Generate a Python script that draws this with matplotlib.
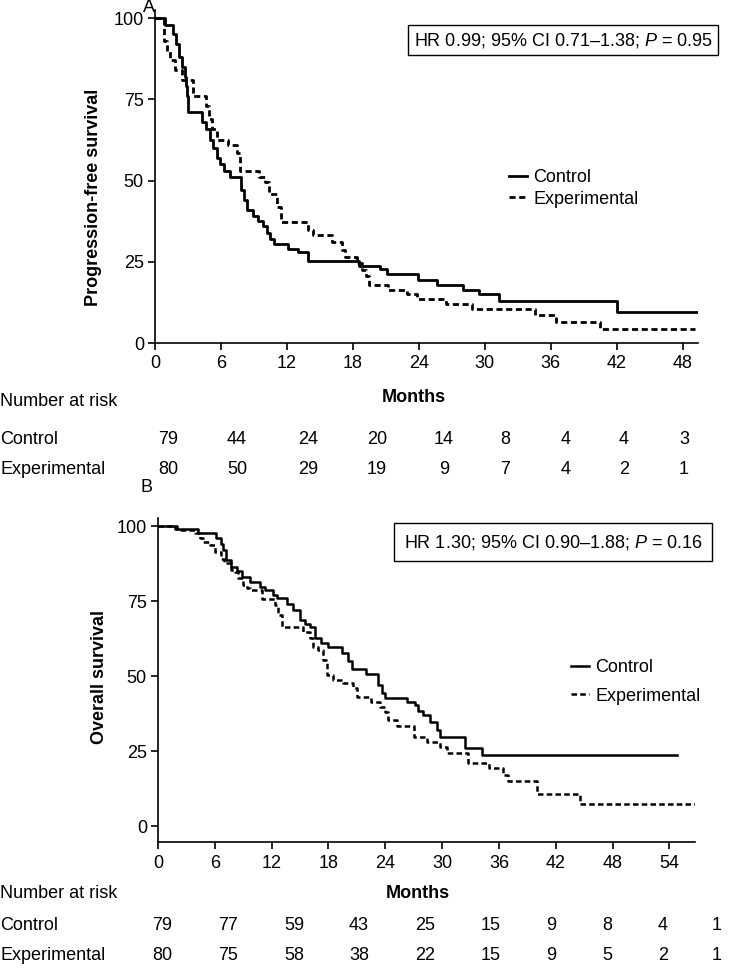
import matplotlib
matplotlib.use("Agg")
import matplotlib.pyplot as plt

plt.rcParams['font.family'] = ['Liberation Sans', 'DejaVu Sans']
plt.rcParams['mathtext.fontset'] = 'custom'
plt.rcParams['mathtext.rm'] = 'Liberation Sans'
plt.rcParams['mathtext.it'] = 'Liberation Sans:italic'

# ---------------- data ----------------
# Panel A: progression-free survival (months, % surviving), step functions
pfs_ctrl_t = [0, 0.9, 1.6, 1.9, 2.2, 2.5, 2.7, 2.8, 2.9, 3.0, 4.3, 4.6, 5.0, 5.3, 5.6, 5.9, 6.3, 6.8,
              7.8, 8.1, 8.4, 8.9, 9.4, 9.8, 10.2, 10.5, 10.8, 12.1, 13.0, 13.9, 18.6, 20.5, 21.1,
              23.9, 25.7, 28.0, 29.5, 31.3, 42.0, 49.4]
pfs_ctrl_s = [100, 98, 95, 92, 88, 85, 82, 79, 76, 71, 68, 66, 62.5, 60, 57, 55, 53, 51,
              47, 44, 41, 39, 37.5, 36, 34, 32, 30.5, 29, 28, 25.2, 23.7, 22.7, 21.1,
              19.5, 18, 16.3, 15, 12.9, 9.6, 9.6]
pfs_exp_t = [0, 0.8, 1.1, 1.4, 1.8, 2.5, 3.5, 4.6, 4.9, 5.2, 5.6, 6.6, 7.5, 7.7, 9.5, 10.0, 10.4,
             11.1, 11.5, 13.9, 14.4, 16.1, 17.0, 17.3, 18.4, 18.8, 19.2, 19.5, 21.2, 22.9, 23.8,
             26.5, 28.8, 34.6, 36.5, 40.5, 49.1]
pfs_exp_s = [100, 93, 90, 87, 84, 81, 76, 73, 69, 66, 62.5, 61, 58.5, 53, 51, 49.5, 46,
             42, 37.2, 34.8, 33.2, 31, 28.5, 26.5, 24.5, 22.5, 20.5, 17.8, 16.3, 15, 13.5,
             12, 10.5, 8.6, 6.5, 4.3, 4.3]

# Panel B: overall survival
os_ctrl_t = [0, 1.8, 4.2, 6.1, 6.6, 6.9, 7.2, 7.7, 8.3, 8.9, 9.7, 10.8, 11.3, 12.1, 12.6, 13.6,
             14.3, 15.0, 15.5, 16.0, 16.6, 17.2, 17.9, 19.4, 20.1, 20.5, 22.0, 23.2, 23.6, 24.0,
             26.3, 27.1, 27.5, 28.0, 28.7, 29.5, 29.8, 32.4, 34.2, 54.8]
os_ctrl_s = [100, 99, 97.7, 96, 94, 92, 88.7, 86.5, 85, 83, 81.3, 79.7, 78.7, 77, 76, 74,
             72, 68.7, 67.5, 66.3, 62.7, 61, 59.7, 57.7, 55, 52.3, 50.7, 47, 44.5, 42.7,
             41.5, 40.3, 38.5, 37, 34.7, 32, 29.7, 26, 23.7, 23.7]
os_exp_t = [0, 2.0, 3.9, 4.4, 4.8, 5.5, 6.0, 6.6, 7.0, 7.7, 8.1, 8.4, 9.0, 9.4, 9.7, 11.0, 12.4,
            12.7, 13.1, 15.3, 16.0, 16.4, 16.9, 17.4, 17.8, 18.5, 19.5, 20.6, 21.0, 22.5, 23.4,
            24.0, 24.3, 25.2, 27.0, 28.4, 29.8, 30.5, 32.7, 35.0, 36.4, 37.0, 40.0, 44.6, 56.7]
os_exp_s = [100, 98.7, 97.7, 96, 94.7, 93.7, 91.3, 89, 87.7, 85.5, 84.7, 82.7, 80.3, 79.3, 78.7,
            75.7, 73.7, 70.3, 66.3, 64.7, 62.7, 59.7, 58.7, 55.3, 50.3, 48.7, 47.7, 46, 43,
            41.3, 39.7, 38, 35.3, 33.3, 29.7, 28, 26.3, 24.3, 21, 19.3, 17, 15, 10.7, 7.3, 7.3]

groups = ["Control", "Experimental"]
pfs_risk_ctrl = [79, 44, 24, 20, 14, 8, 4, 4, 3]
pfs_risk_exp = [80, 50, 29, 19, 9, 7, 4, 2, 1]
os_risk_ctrl = [79, 77, 59, 43, 25, 15, 9, 8, 4, 1]
os_risk_exp = [80, 75, 58, 38, 22, 15, 9, 5, 2, 1]

pfs_ticks = [0, 6, 12, 18, 24, 30, 36, 42, 48]
os_ticks = [0, 6, 12, 18, 24, 30, 36, 42, 48, 54]
y_ticks = [0, 25, 50, 75, 100]

pfs_hr = r"HR 0.99; 95% CI 0.71–1.38; $\mathit{P}$ = 0.95"
os_hr = r"HR 1.30; 95% CI 0.90–1.88; $\mathit{P}$ = 0.16"

# ---------------- layout ----------------
W, H = 737, 968
fig = plt.figure(figsize=(W / 100, H / 100), dpi=100)
FS = 13

def fx(x):
    return x / W

def fy(y):
    return 1 - y / H

def make_axes(l, r, t, b):
    return fig.add_axes([fx(l), fy(b), (r - l) / W, (b - t) / H])

axA = make_axes(155, 698, 10, 343)
axB = make_axes(158, 695, 518, 842)

dash = (0, (2.2, 1.3))

def style(ax, xticks, xmax, ymin, ymax):
    ax.set_xlim(0, xmax)
    ax.set_ylim(ymin, ymax)
    ax.set_xticks(xticks)
    ax.set_yticks(y_ticks)
    for s in ['top', 'right']:
        ax.spines[s].set_visible(False)
    for s in ['left', 'bottom']:
        ax.spines[s].set_linewidth(1.2)
    ax.tick_params(direction='out', length=5, width=1.2, labelsize=FS, pad=4)
    ax.tick_params(axis='y', pad=3)

# Panel A
axA.step(pfs_ctrl_t, pfs_ctrl_s, where='post', color='black', lw=2.0, label=groups[0])
axA.step(pfs_exp_t, pfs_exp_s, where='post', color='black', lw=2.0, ls=dash, label=groups[1])
style(axA, pfs_ticks, 49.4, 0, 102.5)

# Panel B
axB.step(os_ctrl_t, os_ctrl_s, where='post', color='black', lw=1.8, label=groups[0])
axB.step(os_exp_t, os_exp_s, where='post', color='black', lw=1.8, ls=dash, label=groups[1])
style(axB, os_ticks, 56.7, -5.3, 102.7)

# legends
def legend(ax, x, y, spacing):
    leg = ax.legend(loc='upper left', bbox_to_anchor=(fx(x), fy(y)),
                    bbox_transform=fig.transFigure, frameon=False, fontsize=FS,
                    handlelength=1.0, handletextpad=0.35, labelspacing=spacing,
                    borderpad=0, borderaxespad=0)
    return leg

legend(axA, 509, 169, 0.25)
legend(axB, 571, 659, 0.65)

# HR boxes
fig.text(fx(563), fy(40), pfs_hr, ha='center', va='center', fontsize=FS,
         bbox=dict(boxstyle='square,pad=0.3', fc='white', ec='black', lw=1.0))
fig.text(fx(553), fy(542), os_hr, ha='center', va='center', fontsize=FS,
         bbox=dict(boxstyle='square,pad=0.55', fc='white', ec='black', lw=1.0))

# panel letters
fig.text(fx(143), fy(7), "A", ha='left', va='center', fontsize=FS)
fig.text(fx(140), fy(487), "B", ha='left', va='center', fontsize=FS)

# y labels
fig.text(fx(93), fy(197), "Progression-free survival", rotation=90, ha='center',
         va='center', fontsize=FS, fontweight='bold')
fig.text(fx(100), fy(677), "Overall survival", rotation=90, ha='center',
         va='center', fontsize=FS, fontweight='bold')

# x labels
fig.text(fx(414), fy(397), "Months", ha='center', va='center', fontsize=FS, fontweight='bold')
fig.text(fx(418), fy(893), "Months", ha='center', va='center', fontsize=FS, fontweight='bold')

# number at risk tables
pfs_cols = [168, 237, 308, 377, 444, 505, 566, 624, 684]
os_cols = [162, 228, 294, 359, 425, 491, 551, 607, 663, 717]

def risk_table(title_y, row_ys, cols, rows):
    fig.text(0, fy(title_y), "Number at risk", ha='left', va='center', fontsize=FS)
    for name, yy, vals in zip(groups, row_ys, rows):
        fig.text(0, fy(yy), name, ha='left', va='center', fontsize=FS)
        for xx, v in zip(cols, vals):
            fig.text(fx(xx), fy(yy), str(v), ha='center', va='center', fontsize=FS)

risk_table(402, [440, 469], pfs_cols, [pfs_risk_ctrl, pfs_risk_exp])
risk_table(894, [925, 955], os_cols, [os_risk_ctrl, os_risk_exp])

fig.savefig("out.png", dpi=100, facecolor='white')
